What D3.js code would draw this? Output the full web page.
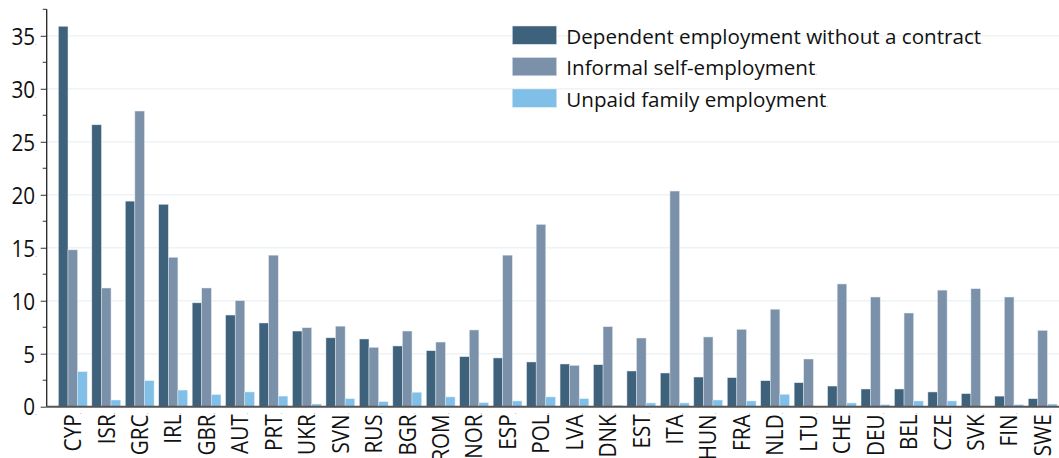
<!DOCTYPE html>
<html>
<head>
<meta charset="utf-8">
<script src="https://cdn.jsdelivr.net/npm/d3@7/dist/d3.min.js"></script>
<style>
  body { margin: 0; background: #fff; }
  svg { font-family: "Open Sans", "Noto Sans", sans-serif; }
</style>
</head>
<body>
<div id="chart"></div>
<script>
// Countries, sorted by dependent employment without a contract
const countries = ["CYP", "ISR", "GRC", "IRL", "GBR", "AUT", "PRT", "UKR", "SVN", "RUS",
    "BGR", "ROM", "NOR", "ESP", "POL", "LVA", "DNK", "EST", "ITA", "HUN",
    "FRA", "NLD", "LTU", "CHE", "DEU", "BEL", "CZE", "SVK", "FIN", "SWE"];

const dependent = [35.9, 26.6, 19.4, 19.1, 9.8, 8.65, 7.9, 7.14, 6.5, 6.39,
    5.73, 5.28, 4.72, 4.6, 4.22, 4.03, 3.96, 3.37, 3.18, 2.8,
    2.74, 2.45, 2.26, 1.95, 1.67, 1.67, 1.39, 1.23, 1.0, 0.75];

const selfEmployed = [14.8, 11.2, 27.9, 14.1, 11.2, 10.0, 14.3, 7.45, 7.6, 5.6,
    7.14, 6.1, 7.24, 14.3, 17.2, 3.9, 7.55, 6.48, 20.35, 6.58,
    7.3, 9.2, 4.5, 11.58, 10.35, 8.84, 11.0, 11.13, 10.35, 7.2];

const unpaidFamily = [3.3, 0.63, 2.45, 1.57, 1.13, 1.39, 1.0, 0.25, 0.75, 0.47,
    1.36, 0.92, 0.38, 0.54, 0.92, 0.75, 0.13, 0.35, 0.35, 0.63,
    0.54, 1.17, 0, 0.35, 0.19, 0.54, 0.54, 0, 0.19, 0.25];

const seriesNames = ["Dependent employment without a contract", "Informal self-employment", "Unpaid family employment"];
const seriesColors = ["#3f627c", "#7b91a9", "#80bfe8"];
const yTicks = [0, 5, 10, 15, 20, 25, 30, 35];

const W = 1059, H = 458;
const svg = d3.select("#chart").append("svg")
    .attr("width", W)
    .attr("height", H);

const axisX = 46.7;
const sx = 0.9; // axis labels are a bit condensed
const yScale = d3.scaleLinear().domain([0, 37.5]).range([406.7, 9.3]);

const x0 = d3.scaleBand()
    .domain(countries)
    .range([axisX, 1068.7])
    .paddingInner(0.14)
    .paddingOuter(0.35);

const x1 = d3.scaleBand()
    .domain(d3.range(3))
    .range([0, x0.bandwidth()]);

const values = [dependent, selfEmployed, unpaidFamily];

// gridlines
svg.append("g")
    .selectAll("line")
    .data(yTicks.slice(1))
    .join("line")
    .attr("x1", axisX)
    .attr("x2", W)
    .attr("y1", d => yScale(d))
    .attr("y2", d => yScale(d))
    .attr("stroke", "#eef3f4")
    .attr("stroke-width", 1.6);

// bars
const groups = svg.append("g")
    .selectAll("g")
    .data(countries)
    .join("g")
    .attr("transform", d => `translate(${x0(d)},0)`);

groups.selectAll("rect")
    .data((c, i) => values.map((s, k) => ({ k: k, v: s[i] })))
    .join("rect")
    .attr("x", d => x1(d.k))
    .attr("width", x1.bandwidth())
    .attr("y", d => yScale(d.v))
    .attr("height", d => yScale(0) - yScale(d.v))
    .attr("fill", d => seriesColors[d.k])
    .attr("stroke", "#dfe7ee")
    .attr("stroke-width", d => d.v > 0 ? 0.5 : 0);

// y axis
const yAxis = d3.axisLeft(yScale)
    .tickValues(yTicks)
    .tickSize(6)
    .tickPadding(10)
    .tickFormat(d3.format("d"));

const yg = svg.append("g")
    .attr("transform", `translate(${axisX},0)`)
    .call(yAxis);
yg.select(".domain").remove();
yg.selectAll(".tick line").attr("stroke", "#333").attr("stroke-width", 1);
yg.selectAll("text")
    .attr("font-size", 23)
    .attr("font-family", "Open Sans")
    .attr("fill", "#111")
    .attr("x", -10 / sx)
    .attr("dy", "0.36em")
    .attr("transform", `scale(${sx},1)`)
    .append("tspan")
    .attr("font-size", 7)
    .attr("fill", "#888")
    .text(".");

// minor ticks
svg.append("g")
    .selectAll("line")
    .data(yTicks.map(d => d + 2.5))
    .join("line")
    .attr("x1", axisX - 4)
    .attr("x2", axisX)
    .attr("y1", d => yScale(d))
    .attr("y2", d => yScale(d))
    .attr("stroke", "#333")
    .attr("stroke-width", 1);

svg.append("line")
    .attr("x1", axisX).attr("x2", axisX)
    .attr("y1", yScale(37.5)).attr("y2", yScale(0))
    .attr("stroke", "#222")
    .attr("stroke-width", 1.3);

// x axis
const xAxis = d3.axisBottom(x0).tickSize(0).tickPadding(0);
const xg = svg.append("g")
    .attr("transform", `translate(0,${yScale(0)})`)
    .call(xAxis);
xg.select(".domain").remove();
xg.selectAll("text")
    .attr("font-size", 23)
    .attr("font-family", "Open Sans")
    .attr("fill", "#111")
    .attr("text-anchor", "end")
    .attr("transform", `rotate(-90) scale(${sx},1)`)
    .attr("x", -6 / sx)
    .attr("y", 0)
    .attr("dy", "0.36em")
    .append("tspan")
    .attr("font-size", 7)
    .attr("fill", "#888")
    .text(".");

svg.append("line")
    .attr("x1", axisX).attr("x2", W)
    .attr("y1", yScale(0)).attr("y2", yScale(0))
    .attr("stroke", "#555")
    .attr("stroke-width", 2);

// legend
const legend = svg.append("g")
    .selectAll("g")
    .data(seriesNames)
    .join("g")
    .attr("transform", (d, i) => `translate(512.3,${26 + i * 31.5})`);

legend.append("rect")
    .attr("width", 44.4)
    .attr("height", 18.3)
    .attr("fill", (d, i) => seriesColors[i])
    .attr("stroke", "#dfe7ee")
    .attr("stroke-width", 0.5);

legend.append("text")
    .attr("x", 54)
    .attr("y", 17.6)
    .attr("font-size", 20.6)
    .attr("font-family", "Open Sans")
    .attr("fill", "#111")
    .text(d => d)
    .append("tspan")
    .attr("font-size", 7)
    .attr("fill", "#888")
    .text(".");
</script>
</body>
</html>
